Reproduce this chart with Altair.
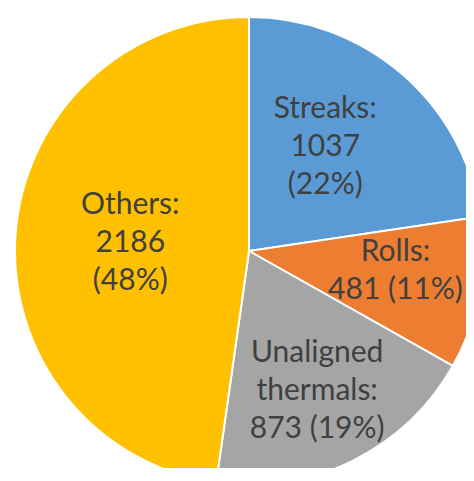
import altair as alt
import pandas as pd

categories = ["Streaks", "Rolls", "Unaligned thermals", "Others"]
counts = [1037, 481, 873, 2186]
percents = ["22%", "11%", "19%", "48%"]
label_text = ["Streaks:\n1037\n(22%)", "Rolls:\n481 (11%)",
              "Unaligned\nthermals:\n873 (19%)", "Others:\n2186\n(48%)"]
colors = ["#5B9BD5", "#ED7D31", "#A5A5A5", "#FFC000"]

# label placement (style): radius from centre and small pixel nudges
label_radius = [129, 152, 154, 119]
label_dx = [-8, -3, 0, 0]
label_dy = [-6, -8, 2, 0]
LH = 38

CX, CY, R = 241, 243, 234

df = pd.DataFrame({
    "cat": categories,
    "value": counts,
    "order": list(range(len(categories))),
    "label": label_text,
    "lr": label_radius,
})

base = alt.Chart(df)

pie = base.mark_arc(stroke="white", strokeWidth=2).encode(
    theta=alt.Theta("value:Q", stack=True),
    order=alt.Order("order:Q"),
    color=alt.Color("cat:N", scale=alt.Scale(domain=categories, range=colors), legend=None),
    x=alt.value(CX), y=alt.value(CY), radius=alt.value(R),
)

lab_base = base.transform_joinaggregate(total="sum(value)").transform_window(
    cum="sum(value)", sort=[alt.SortField("order")], frame=[None, 0]
).transform_calculate(
    mid=f"(datum.cum - datum.value/2) / datum.total * 2 * PI"
).transform_calculate(
    px=f"{CX} + datum.lr * sin(datum.mid)",
    py=f"{CY} - datum.lr * cos(datum.mid)",
)

layers = [pie]
for i, c in enumerate(categories):
    nlines = label_text[i].count("\n") + 1
    layers.append(
        lab_base.transform_filter(alt.datum.cat == c).mark_text(
            font="Lato", fontSize=30, color="#404040", lineBreak="\n",
            lineHeight=LH, align="center", baseline="middle",
            dx=label_dx[i], dy=label_dy[i] - (nlines - 1) * LH / 2,
        ).encode(
            x=alt.X("px:Q", scale=None, axis=None),
            y=alt.Y("py:Q", scale=None, axis=None),
            text="label:N",
        )
    )

chart = alt.layer(*layers).properties(
    width=458, height=460, padding=0,
    autosize=alt.AutoSizeParams(type="none"),
).configure_view(stroke=None)

chart.save("out.html", embed_options={"renderer": "svg", "actions": False})
